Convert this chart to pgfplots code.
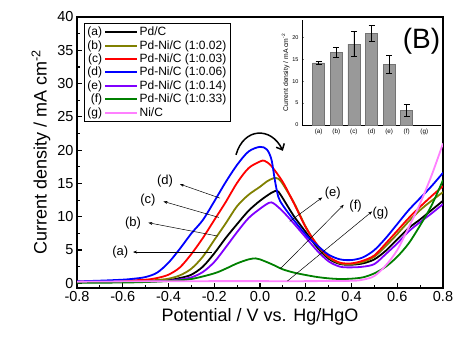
\documentclass[border=0pt]{standalone}
\usepackage{fontspec}
\setmainfont{Liberation Sans}
\usepackage{pgfplots}
\pgfplotsset{compat=1.18}
\usetikzlibrary{arrows.meta}
\definecolor{colA}{RGB}{0,0,0}
\definecolor{colB}{RGB}{128,128,0}
\definecolor{colC}{RGB}{255,0,0}
\definecolor{colD}{RGB}{0,0,255}
\definecolor{colE}{RGB}{128,0,255}
\definecolor{colF}{RGB}{0,128,0}
\definecolor{colG}{RGB}{255,128,255}
\pgfplotsset{lab/.style={legend image code/.code={%
  \node[anchor=east,inner sep=0pt,text=black] at (-1pt,0pt) {#1};
  \draw[##1,line width=2pt] (1pt,0pt) -- (33pt,0pt);}}}
\tikzset{ann/.style={line width=0.5pt,-{Stealth[length=4pt,width=3pt]}},
  annlab/.style={font=\fontsize{13}{14}\selectfont,inner sep=0pt}}
\begin{document}
\begin{tikzpicture}
\begin{axis}[name=main, at={(0,0)}, anchor=south west, scale only axis,
  width=366pt, height=271pt,
  xmin=-0.8, xmax=0.8, ymin=-0.7, ymax=40,
  xtick={-0.8,-0.6,-0.4,-0.2,0,0.2,0.4,0.6,0.8},
  ytick={0,5,10,15,20,25,30,35,40},
  minor x tick num=1, minor y tick num=1,
  tick pos=left, tick align=inside,
  major tick length=5pt, minor tick length=3pt,
  every tick/.style={black, line width=1.2pt},
  axis line style={line width=2pt},
  /pgf/number format/assume math mode=true,
  ticklabel style={font=\fontsize{14.5}{15}\selectfont},
  x tick label style={/pgf/number format/.cd, fixed, fixed zerofill, precision=1},
  y tick label style={/pgf/number format/.cd, fixed, precision=0},
  xlabel={Potential / V vs. Hg/HgO},
  ylabel={Current density / mA cm\textsuperscript{-2}},
  label style={font=\fontsize{18}{20}\selectfont},
  legend style={at={(0.019,0.978)}, anchor=north west, draw=black, line width=1pt,
    font=\fontsize{12}{13}\selectfont, inner xsep=3pt, inner ysep=2pt,
    nodes={inner sep=1.6pt}},
  legend cell align=left,
  every axis plot/.append style={line width=1.8pt, mark=none, smooth},
]
\addplot[colA, lab={(a)}] coordinates {(-0.8,0.2)(-0.6,0.22)(-0.5,0.3)(-0.4,0.5)(-0.35,0.8)(-0.3,1.3)(-0.25,2.5)(-0.2,4.5)(-0.15,6.8)(-0.1,8.9)(-0.05,10.9)(0.0,12.4)(0.05,13.6)(0.075,13.9)(0.09,13.3)(0.11,12.2)(0.15,10.0)(0.2,7.7)(0.25,5.4)(0.3,3.7)(0.35,2.9)(0.4,2.8)(0.45,3.0)(0.5,3.6)(0.55,4.9)(0.6,6.6)(0.65,8.3)(0.7,9.6)(0.75,11.0)(0.8,12.4)};
\addlegendentry{Pd/C}
\addplot[colB, lab={(b)}] coordinates {(-0.8,0.2)(-0.6,0.3)(-0.5,0.4)(-0.45,0.5)(-0.4,0.7)(-0.35,1.2)(-0.3,2.2)(-0.25,4.0)(-0.2,6.5)(-0.15,9.0)(-0.1,11.6)(-0.05,13.3)(0.0,14.5)(0.03,15.3)(0.06,15.8)(0.08,15.7)(0.1,14.9)(0.15,12.0)(0.2,8.5)(0.25,5.7)(0.3,3.9)(0.35,3.0)(0.4,2.9)(0.45,3.2)(0.5,4.0)(0.55,5.6)(0.6,7.4)(0.65,9.3)(0.7,11.0)(0.75,12.4)(0.8,13.7)};
\addlegendentry{Pd-Ni/C (1:0.02)}
\addplot[colC, lab={(c)}] coordinates {(-0.8,0.25)(-0.6,0.4)(-0.5,0.55)(-0.45,0.8)(-0.4,1.3)(-0.35,2.4)(-0.3,4.4)(-0.25,6.8)(-0.2,9.5)(-0.15,12.2)(-0.1,15.1)(-0.05,17.3)(0.0,18.3)(0.02,18.4)(0.05,17.6)(0.1,15.2)(0.15,11.9)(0.2,8.4)(0.25,5.8)(0.3,4.0)(0.35,3.1)(0.4,3.0)(0.45,3.4)(0.5,4.2)(0.55,6.0)(0.6,7.9)(0.65,9.8)(0.7,11.5)(0.75,13.1)(0.8,14.6)};
\addlegendentry{Pd-Ni/C (1:0.03)}
\addplot[colD, lab={(d)}] coordinates {(-0.8,0.3)(-0.7,0.4)(-0.6,0.55)(-0.55,0.7)(-0.5,0.95)(-0.45,1.6)(-0.4,3.1)(-0.35,5.2)(-0.3,7.5)(-0.25,9.5)(-0.2,12.3)(-0.15,15.2)(-0.1,17.8)(-0.05,19.8)(0.0,20.5)(0.03,20.1)(0.05,18.6)(0.065,15.5)(0.08,13.0)(0.1,11.7)(0.15,9.4)(0.2,7.3)(0.25,5.7)(0.3,4.3)(0.35,3.6)(0.4,3.5)(0.45,3.9)(0.5,5.0)(0.55,6.8)(0.6,8.9)(0.65,11.0)(0.7,12.8)(0.75,14.6)(0.8,16.6)};
\addlegendentry{Pd-Ni/C (1:0.06)}
\addplot[colE, lab={(e)}] coordinates {(-0.8,0.15)(-0.6,0.2)(-0.5,0.25)(-0.4,0.4)(-0.35,0.6)(-0.3,0.9)(-0.25,1.7)(-0.2,3.2)(-0.15,5.4)(-0.1,7.7)(-0.05,9.8)(0.0,11.2)(0.04,12.1)(0.06,12.0)(0.1,10.8)(0.15,8.9)(0.2,6.9)(0.25,4.9)(0.3,3.3)(0.35,2.5)(0.4,2.4)(0.45,2.5)(0.5,2.9)(0.55,4.4)(0.6,6.0)(0.65,7.8)(0.7,9.2)(0.75,10.5)(0.8,11.9)};
\addlegendentry{Pd-Ni/C (1:0.14)}
\addplot[colF, lab={(f)}] coordinates {(-0.8,0.1)(-0.6,0.12)(-0.5,0.2)(-0.4,0.35)(-0.3,0.65)(-0.2,1.5)(-0.15,2.2)(-0.1,3.0)(-0.05,3.6)(-0.02,3.75)(0.0,3.6)(0.05,2.9)(0.1,2.1)(0.15,1.6)(0.2,1.25)(0.25,0.95)(0.3,0.75)(0.35,0.65)(0.4,0.7)(0.45,0.9)(0.5,1.5)(0.55,2.5)(0.6,4.0)(0.65,6.0)(0.7,8.7)(0.75,11.7)(0.8,15.5)};
\addlegendentry{Pd-Ni/C (1:0.33)}
\addplot[colG, lab={(g)}] coordinates {(-0.8,0.25)(-0.6,0.3)(-0.4,0.32)(-0.2,0.33)(0.0,0.33)(0.2,0.33)(0.4,0.38)(0.45,0.55)(0.5,1.1)(0.55,2.7)(0.6,5.0)(0.65,8.4)(0.7,12.0)(0.75,16.2)(0.8,21.0)};
\addlegendentry{Ni/C}
% annotations
\draw[ann] (axis cs:-0.21,4.7) -- (axis cs:-0.555,4.7);
\node[annlab,anchor=east] at (axis cs:-0.575,4.7) {(a)};
\draw[ann] (axis cs:-0.185,7.1) -- (axis cs:-0.488,9.1);
\node[annlab] at (axis cs:-0.555,9.1) {(b)};
\draw[ann] (axis cs:-0.18,9.9) -- (axis cs:-0.422,12.3);
\node[annlab] at (axis cs:-0.49,12.5) {(c)};
\draw[ann] (axis cs:-0.175,12.8) -- (axis cs:-0.35,14.9);
\node[annlab] at (axis cs:-0.415,15.3) {(d)};
\draw[ann] (axis cs:0.13,9.3) -- (axis cs:0.272,12.9);
\node[annlab] at (axis cs:0.318,13.6) {(e)};
\draw[ann] (axis cs:0.089,2.2) -- (axis cs:0.366,11.8);
\node[annlab] at (axis cs:0.418,11.6) {(f)};
\draw[ann] (axis cs:0.12,0.35) -- (axis cs:0.49,10.8);
\node[annlab] at (axis cs:0.527,10.6) {(g)};
\draw[line width=1.5pt,-{Straight Barb[length=5pt,width=9pt]}] (axis cs:-0.105,19.3) .. controls (axis cs:-0.07,23.5) and (axis cs:0.05,23.5) .. (axis cs:0.1,19.9);
\end{axis}
\begin{axis}[at={(225pt,163pt)}, anchor=south west, scale only axis,
  width=139pt, height=105pt,
  xmin=0.05, xmax=7.95, ymin=0, ymax=24,
  axis x line*=bottom, axis y line*=left,
  axis line style={line width=0.8pt},
  xtick={1,2,3,4,5,6,7},
  xticklabels={(a),(b),(c),(d),(e),(f),(g)},
  ytick={0,5,10,15,20},
  tick align=inside, major tick length=2pt,
  x tick style={draw=none},
  /pgf/number format/assume math mode=true,
  ticklabel style={font=\fontsize{5.5}{6}\selectfont},
  xticklabel style={font=\fontsize{6.3}{7}\selectfont},
  ylabel={Current density / mA cm\textsuperscript{-2}},
  ylabel style={font=\fontsize{6.8}{7.5}\selectfont, yshift=-4pt},
]
\addplot[ybar, bar width=12pt, fill=black!40, draw=black!55, line width=0.5pt,
  error bars/.cd, y dir=both, y explicit,
  error bar style={line width=0.8pt,black}, error mark options={rotate=90,mark size=3pt,line width=0.8pt}]
  coordinates {(1,14.2) +- (0,0.3) (2,16.6) +- (0,1.2) (3,18.5) +- (0,2.8) (4,21.0) +- (0,1.8) (5,13.8) +- (0,2.1) (6,3.3) +- (0,1.4)};
\node[font=\fontsize{28}{30}\selectfont] at (rel axis cs:0.86,0.8) {(B)};
\end{axis}
\pgfresetboundingbox
\path (-77pt,-55pt) rectangle (377pt,288pt);
\end{tikzpicture}
\end{document}
